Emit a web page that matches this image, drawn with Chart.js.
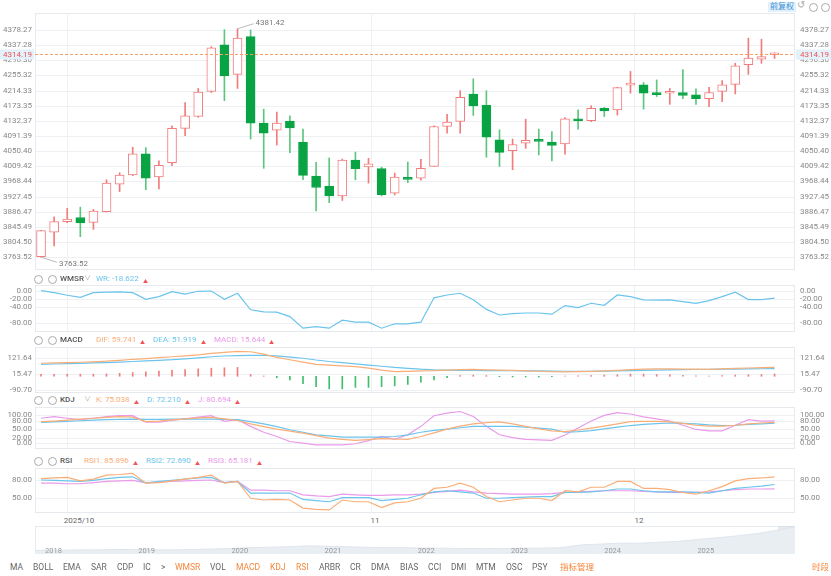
<!DOCTYPE html>
<html><head><meta charset="utf-8">
<script src="https://cdn.jsdelivr.net/npm/chart.js@4"></script>
<style>
body{margin:0;width:831px;height:576px;background:#fff;font-family:Roboto,"Noto Sans CJK SC",sans-serif;overflow:hidden;position:relative}
canvas{position:absolute;left:0}
.t{position:absolute;font-size:8px;color:#888;white-space:nowrap;line-height:10px}
.ic{position:absolute;width:7px;height:7px;border:1px solid #aaa;border-radius:50%}
</style></head><body>
<div id="root"></div>
<script>
// candles
const opens  = [3765,3831,3860,3871,3858,3887,3961,3986,4043,3981,4019,4112,4144,4212,4338,4258,4360,4126,4107,4132,4074,3983,3956,3929,4026,4008,4003,3937,3978,3977,4009,4117,4131,4205,4174,4081,4052,4072,4080,4075,4070,4138,4133,4166,4162,4229,4230,4209,4207,4209,4203,4192,4212,4231,4284,4299,4311];
const closes = [3835.6,3860,3867,3856,3888,3964,3986,4043,3977,4012,4112,4146,4210,4330,4254,4356,4126,4099,4126,4113,3985,3952,3929,4026,4003,4016,3933,3980,3974,4004,4117,4129,4196,4173,4088,4047,4068,4080,4077,4066,4138,4132,4166,4159,4222,4234,4207,4203,4211,4201,4192,4209,4230,4281,4302,4306,4314.19];
const highs  = [3836,3873,3896,3899,3893,3973,3992,4061,4060,4024,4119,4182,4220,4333,4379,4381.42,4378,4164,4156,4146,4110,4020,4032,4029,4048,4031,4007,3991,4021,4028,4119,4150,4214,4246,4214,4108,4083,4137,4110,4103,4141,4162,4173,4169,4223,4266,4236,4243,4220,4271,4219,4223,4241,4288,4356,4353,4316];
const lows   = [3763.52,3794,3857,3819,3839,3886,3941,3984,3946,3948,4011,4092,4142,4209,4187,4220,4083,4004,4067,4046,3973,3889,3911,3917,3973,3964,3929,3932,3965,3972,4009,4099,4099,4147,4034,4009,4000,4058,4040,4024,4042,4110,4130,4144,4148,4207,4164,4198,4177,4192,4177,4171,4184,4205,4258,4288,4301];
const priceTicks = [4378.27,4337.28,4296.30,4255.32,4214.33,4173.35,4132.37,4091.39,4050.40,4009.42,3968.44,3927.45,3886.47,3845.49,3804.50,3763.52];
// indicators
const wr = [0,-5,-11.7,-16.7,-5,-4,-3,-5,-21.7,-15,-2.5,-9,-1.7,-1,-21.7,-6.7,-48,-53,-54,-65,-94,-90,-94,-74,-79,-79,-94,-83,-83,-79,-18,-11,-6.7,-23,-47,-61,-57.5,-56,-56,-59,-37.5,-42.5,-31.7,-36.7,-11,-15,-23,-24,-23,-27.5,-31.7,-25,-15,-4,-22.5,-22.5,-18.6];
const wrTicks = [0,-20,-40,-80];
const dif = [88,90,92,95,98,102,108,115,120,126,132,138,145,155,162,169,166,150,128,112,96,81,75,70,65,55,42,31,33,36,38,42,45,47,44,42,40,37,34,31,30,31,33,36,40,45,49,50,50,49,48,47,50,53,56,58,59.7];
const dea = [81,83,85,87,90,93,96,100,104,108,112,118,125,132,137,140,142,142,138,130,122,110,100,92,84,76,68,60,54,48,44,42,40,39,38,38,38,37,36,35,34,34,34,35,36,38,40,42,44,45,46,47,48,49,50,51,51.9];
const macdHist = [14,14,14,14,14,16,20,25,30,35,40,45,50,55,58,60,12,2,-10,-25,-50,-70,-85,-85,-75,-75,-70,-65,-55,-40,-25,-10,5,8,5,-3,-5,-5,-5,-3,2,3,5,8,10,15,15,12,10,6,3,1,5,8,10,12,15.6];
const macdTicks = [121.64,15.47,-90.70];
const kVals = [78,80,83,87,90,93,96,94,78,80,84,88,91,93,88,82,70,60,51,44,37,28,19,15,11,14,17,16,15,25,38,51,62,70,74,77,70,61,52,45,42,48,55,62,70,78,79,79,77,72,65,62,62,65,70,73,75];
const dVals = [75,77,79,81,83,85,86,87,86,86,87,87,87,87,86,85,78,70,60,49,40,31,27,23,23,23,23,25,31,40,47,51,56,61,61,61,61,58,55,51,40,42,46,52,58,64,68,71,73,72,70,66,64,65,68,70,72.2];
const jVals = [90,96,90,85,90,96,99,99,76,76,82,88,94,99,79,85,61,40,25,7,1,-5,-5,-5,-1,10,25,15,31,61,99,108,114,96,61,31,21,15,13,11,30,55,80,100,110,105,95,88,80,65,50,45,45,65,85,80,80.7];
const kdjTicks = [100,80,50,20,0];
const rsi1 = [83,84,85,79,82,89,90,92,75,76,79,82,85,89,75,78,49,46,47,46,32,30,29,46,43,43,33,41,43,49,66,68,75,68,52,43,46,49,49,45,62,60,68,68,78,78,66,66,64,59,56,62,69,79,83,84,85.9];
const rsi2 = [80.5,80,79,78,80,83,85,86,75,78,80,82,84,85,76,78,58,58,58,58,47,45,43,50,50,50,45,47,49,55,60,62,60,58,49,49,50,51,52,52,59,59,60,62,65,65,62,60,60,60,59,58,62,66,68,70,72.7];
const rsi3 = [75,75,74,74,76,78,79,80,76,77,78,79,80,80.5,76,78,63,63,62,62,55,53,52,56,55,54,54,55,55,56,59,61,63,60,58,57,56,56,56,57,59,60,61,62,62,62,61,60,59,59,59,60,62,64,65,65,65.2];
const rsiTicks = [80,50];
const monthPos = [2,25.2,45.3];
const monthLabels = ['2025/10','11','12'];
const navVals = [8,8,9,9,10,10,9,9,10,11,12,14,15,16,18,17,16,15,14,14,13,13,12,12,12,13,13,14,20,22,24,24,26,28,32,36,40,45,52,60];
const navYears = ['2018','2019','2020','2021','2022','2023','2024','2025'];
const toolbar = ['MA','BOLL','EMA','SAR','CDP','IC','>','WMSR','VOL','MACD','KDJ','RSI','ARBR','CR','DMA','BIAS','CCI','DMI','MTM','OSC','PSY','指标管理'];
const activeTools = ['WMSR','MACD','KDJ','RSI','指标管理'];

const RED = '#f27c7c', GREEN = '#0aa344', BLUE = '#6cc4ec', ORANGE = '#f9ae78', PINK = '#e99ae9';
const root = document.getElementById('root');
const pts = arr => arr.map((v, i) => ({x: i, y: v}));
const line = (arr, c) => ({type: 'line', data: pts(arr), borderColor: c, borderWidth: 1.2, pointRadius: 0, tension: 0});

function text(x, y, s, color, size, extra) {
    const d = document.createElement('div');
    d.className = 't';
    d.textContent = s;
    d.style.left = x + 'px'; d.style.top = y + 'px';
    if (color) d.style.color = color;
    if (size) d.style.fontSize = size + 'px';
    if (extra) Object.assign(d.style, extra);
    root.appendChild(d);
    return d;
}

function panel(top, height, datasets, ymin, ymax, ticks, extraDraw) {
    const cv = document.createElement('canvas');
    cv.style.top = top + 'px';
    cv.width = 831; cv.height = height;
    cv.style.width = '831px'; cv.style.height = height + 'px';
    root.appendChild(cv);
    const frame = {
        id: 'frame',
        beforeDatasetsDraw(chart) {
            const {ctx, chartArea: a, scales: {x, y}} = chart;
            ctx.save();
            ctx.strokeStyle = '#eef1f4'; ctx.lineWidth = 1;
            ticks.forEach(v => {
                const py = Math.round(y.getPixelForValue(v)) + 0.5;
                ctx.beginPath(); ctx.moveTo(a.left, py); ctx.lineTo(a.right, py); ctx.stroke();
            });
            monthPos.forEach(m => {
                const px = Math.round(x.getPixelForValue(m)) + 0.5;
                ctx.beginPath(); ctx.moveTo(px, a.top); ctx.lineTo(px, a.bottom); ctx.stroke();
            });
            ctx.strokeStyle = '#e6e9ee';
            ctx.strokeRect(a.left + 0.5, a.top + 0.5, a.width - 1, a.height - 1);
            ctx.restore();
        },
        afterDraw(chart) {
            const {ctx, chartArea: a, scales: {y}} = chart;
            ctx.save();
            ctx.font = '8px Roboto'; ctx.fillStyle = '#888'; ctx.textBaseline = 'middle';
            ticks.forEach(v => {
                const py = y.getPixelForValue(v);
                ctx.textAlign = 'right'; ctx.fillText(v.toFixed(2), a.left - 3, py);
                ctx.textAlign = 'left'; ctx.fillText(v.toFixed(2), a.right + 5, py);
            });
            ctx.restore();
            if (extraDraw) extraDraw(chart);
        }
    };
    return new Chart(cv, {
        type: 'bar',
        data: {datasets},
        options: {
            responsive: false, animation: false,
            layout: {padding: {left: 35, right: 36, top: 0, bottom: 0}},
            plugins: {legend: {display: false}, tooltip: {enabled: false}},
            scales: {
                x: {type: 'linear', min: -0.46, max: 57.56, offset: false, display: false},
                y: {min: ymin, max: ymax, display: false}
            }
        },
        plugins: [frame]
    });
}

// main candle panel
const idx = opens.map((_, i) => i);
const up = idx.map(i => closes[i] >= opens[i]);
panel(13, 257, [
    {data: idx.map(i => ({x: i, y: [Math.min(opens[i], closes[i]), Math.max(opens[i], closes[i])]})),
     backgroundColor: up.map(u => u ? '#fff' : GREEN), borderColor: up.map(u => u ? RED : GREEN),
     borderWidth: 1, borderSkipped: false, barThickness: 9, minBarLength: 2, grouped: false, order: 0},
    {data: idx.map(i => ({x: i, y: [lows[i], highs[i]]})),
     backgroundColor: up.map(u => u ? RED : '#5cc67e'), barThickness: 1, grouped: false, order: 1}
], 3729, 4424, priceTicks, chart => {
    const {ctx, chartArea: a, scales: {x, y}} = chart;
    const last = closes[closes.length - 1];
    const py = Math.round(y.getPixelForValue(last)) + 0.5;
    ctx.save();
    ctx.strokeStyle = '#f5a26a'; ctx.setLineDash([3, 2]);
    ctx.beginPath(); ctx.moveTo(a.left, py); ctx.lineTo(a.right, py); ctx.stroke();
    ctx.setLineDash([]);
    ctx.fillStyle = '#e3f1fb';
    ctx.fillRect(0, py - 5, a.left - 1, 10);
    ctx.fillRect(a.right + 1, py - 5, 36, 10);
    ctx.font = '8px Roboto'; ctx.fillStyle = '#f05454'; ctx.textBaseline = 'middle';
    ctx.textAlign = 'right'; ctx.fillText(last.toFixed(2), a.left - 3, py);
    ctx.textAlign = 'left'; ctx.fillText(last.toFixed(2), a.right + 5, py);
    // max / min markers
    const hi = highs.indexOf(Math.max(...highs)), lo = lows.indexOf(Math.min(...lows));
    ctx.strokeStyle = '#bbb'; ctx.fillStyle = '#777';
    let hx = x.getPixelForValue(hi), hy = y.getPixelForValue(highs[hi]);
    ctx.beginPath(); ctx.moveTo(hx, hy); ctx.lineTo(hx + 16, hy - 5); ctx.stroke();
    ctx.fillText(highs[hi].toFixed(2), hx + 18, hy - 6);
    let lx = x.getPixelForValue(lo), ly = y.getPixelForValue(lows[lo]);
    ctx.beginPath(); ctx.moveTo(lx, ly); ctx.lineTo(lx + 16, ly + 5); ctx.stroke();
    ctx.fillText(lows[lo].toFixed(2), lx + 18, ly + 7);
    ctx.restore();
});

panel(285, 47, [line(wr, BLUE)], -103.5, 14, wrTicks);
panel(347, 46, [
    {data: pts(macdHist), backgroundColor: macdHist.map(v => v >= 0 ? RED : '#3fbf6a'), barThickness: 1, grouped: false, order: 2},
    line(dif, ORANGE), line(dea, BLUE)
], -113, 198, macdTicks);
panel(407, 42, [line(kVals, ORANGE), line(dVals, BLUE), line(jVals, PINK)], -19.6, 130, kdjTicks);
panel(468, 45, [line(rsi1, ORANGE), line(rsi2, BLUE), line(rsi3, PINK)], 23.6, 101.2, rsiTicks);

// navigator
(function () {
    const cv = document.createElement('canvas');
    cv.style.top = '526px'; cv.width = 831; cv.height = 28;
    root.appendChild(cv);
    new Chart(cv, {
        type: 'line',
        data: {datasets: [{data: pts(navVals), fill: 'origin', backgroundColor: '#e9eef3', borderColor: '#dfe5ec', borderWidth: 1, pointRadius: 0}]},
        options: {
            responsive: false, animation: false,
            layout: {padding: {left: 35, right: 36}},
            plugins: {legend: {display: false}, tooltip: {enabled: false}},
            scales: {x: {type: 'linear', min: 0, max: 39, display: false}, y: {min: 0, max: 62, display: false}}
        },
        plugins: [{id: 'nav', beforeDatasetsDraw(chart) {
            const {ctx, chartArea: a} = chart;
            ctx.save();
            ctx.strokeStyle = '#e6e9ee'; ctx.strokeRect(a.left + 0.5, 0.5, a.width - 1, 27);
            ctx.fillStyle = 'rgba(200,210,222,0.45)'; ctx.fillRect(a.right - 17, 0, 17, 28);
            ctx.restore();
        }}]
    });
    navYears.forEach((yv, i) => text(45 + i * 93.2, 546, yv, '#999', 7.5));
})();

// headers
function header(y, name, items) {
    const c1 = document.createElement('div'); c1.className = 'ic'; c1.style.left = '34px'; c1.style.top = (y + 1) + 'px'; root.appendChild(c1);
    const c2 = document.createElement('div'); c2.className = 'ic'; c2.style.left = '48px'; c2.style.top = (y + 1) + 'px'; root.appendChild(c2);
    text(60, y, name, '#555', 8, {fontWeight: '500'});
    let x = 96;
    if (name !== 'MACD' && name !== 'RSI') { text(84, y - 1, '∨', '#aaa', 7); }
    if (name === 'RSI') x = 84;
    items.forEach(([lab, val, c]) => {
        const d = text(x, y, lab + '  ' + val, c, 8);
        text(x + d.offsetWidth + 4, y, '▲', '#f05454', 5, {top: (y + 2) + 'px'});
        x += d.offsetWidth + 17;
    });
}
header(274, 'WMSR', [['WR:', '-18.622', BLUE]]);
header(335, 'MACD', [['DIF:', '59.741', ORANGE], ['DEA:', '51.919', BLUE], ['MACD:', '15.644', PINK]]);
header(395, 'KDJ', [['K:', '75.038', ORANGE], ['D:', '72.210', BLUE], ['J:', '80.694', PINK]]);
header(456, 'RSI', [['RSI1:', '85.896', ORANGE], ['RSI2:', '72.690', BLUE], ['RSI3:', '65.181', PINK]]);

// month labels
const mx = [79, 375, 639];
monthLabels.forEach((m, i) => { const d = text(mx[i], 516, m, '#666', 8); d.style.transform = 'translateX(-50%)'; });

// top right
text(768, 2, '前复权', '#3b8fd9', 8, {background: '#e3f1fb', padding: '0 2px'});
text(797, 0, '↺', '#aaa', 10);
const z1 = document.createElement('div'); z1.className = 'ic'; z1.style.left = '809px'; z1.style.top = '3px'; root.appendChild(z1);
const z2 = document.createElement('div'); z2.className = 'ic'; z2.style.left = '821px'; z2.style.top = '3px'; root.appendChild(z2);

// toolbar
let tx = 10;
toolbar.forEach(s => {
    const d = text(tx, 562, s, activeTools.includes(s) ? '#f5873a' : '#666', 8.5);
    tx += d.offsetWidth + (s === 'PSY' ? 12 : 10);
});
text(812, 562, '时段', '#f5873a', 8.5);
</script>
</body></html>
